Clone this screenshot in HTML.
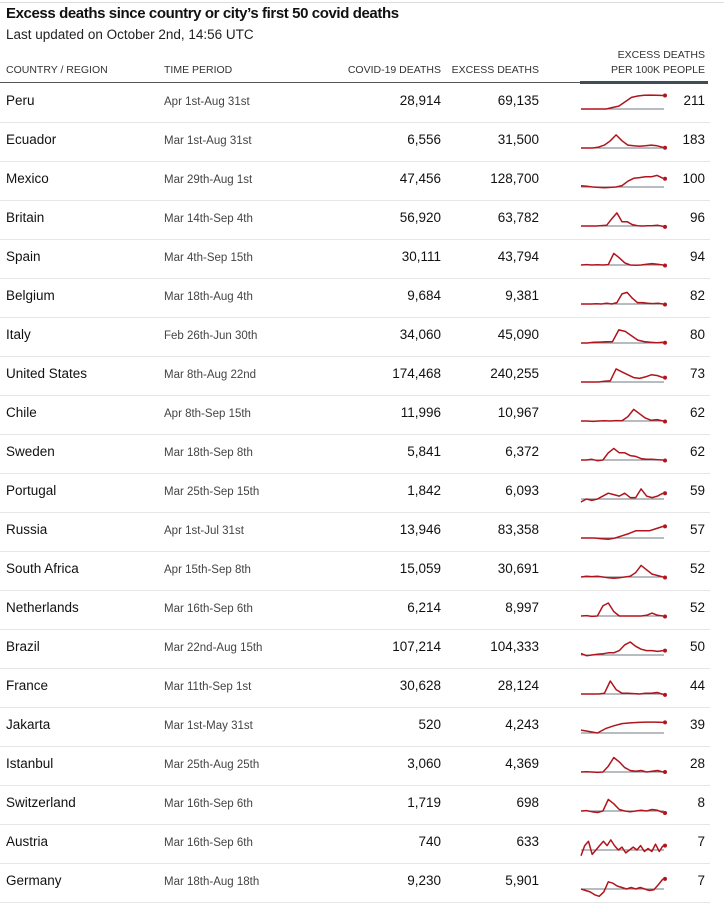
<!DOCTYPE html>
<html><head><meta charset="utf-8"><style>
body{margin:0;width:724px;height:906px;background:#fff;font-family:"Liberation Sans",sans-serif;color:#111;position:relative;overflow:hidden}
.a{position:absolute;white-space:nowrap}
.t{font-size:15px;font-weight:bold;left:6px;top:5px;letter-spacing:-0.4px}
.s{font-size:13.5px;left:6px;top:27px;color:#222}
.h{font-size:10.5px;color:#333}
.c{font-size:13.5px;left:6px}
.p{font-size:11.5px;left:164px;color:#444}
.n{font-size:13.5px;text-align:right}
.sep{position:absolute;left:0;width:710px;height:1px;background:#e6e6e6}
</style></head><body>
<div class="sep" style="top:2px;width:724px;background:#ddd"></div>
<div class="a t">Excess deaths since country or city’s first 50 covid deaths</div>
<div class="a s">Last updated on October 2nd, 14:56 UTC</div>
<div class="a h" style="left:6px;top:64px">COUNTRY / REGION</div>
<div class="a h" style="left:164px;top:64px">TIME PERIOD</div>
<div class="a h" style="right:283px;top:64px">COVID-19 DEATHS</div>
<div class="a h" style="right:185px;top:64px">EXCESS DEATHS</div>
<div class="a h" style="right:19px;top:49px">EXCESS DEATHS</div>
<div class="a h" style="right:19px;top:64px">PER 100K PEOPLE</div>
<div style="position:absolute;left:0;top:82px;width:580px;height:1px;background:#555"></div>
<div style="position:absolute;left:580px;top:81px;width:128px;height:3px;background:#3f4d57"></div>
<div id="rows"></div>
<svg id="sv" width="724" height="906" style="position:absolute;left:0;top:0"></svg>
<script>
var D=[
["Peru","Apr 1st-Aug 31st","28,914","69,135","211",[0,0,0,0,0,1,2,5,8,9,9.5,9.6,9.5,9.3],1],
["Ecuador","Mar 1st-Aug 31st","6,556","31,500","183",[0,0,0,0.6,2,5,9,5,2,1.5,1.2,1.5,2,1.5,0.5],0],
["Mexico","Mar 29th-Aug 1st","47,456","128,700","100",[0.8,0.5,0,-0.3,-0.5,-0.3,0,1,4,6,6.5,7,7,8,6],0],
["Britain","Mar 14th-Sep 4th","56,920","63,782","96",[0,0,0,0,0.3,0.5,5,9,3,3,1,0.2,0,0.2,0.3,0.5,-0.3],0],
["Spain","Mar 4th-Sep 15th","30,111","43,794","94",[0,0.3,0,0.2,0,0.3,8,5,1.5,0,-0.2,0,0.5,1,0.5,0],0],
["Belgium","Mar 18th-Aug 4th","9,684","9,381","82",[0,0,0,0.2,0,0.5,0,1,7,8,4,1,1,0.5,0.3,0.5,0],0],
["Italy","Feb 26th-Jun 30th","34,060","45,090","80",[0,0,0.5,0.6,0.8,1,9,8,5,2,1,0.5,0.2,0.5],0],
["United States","Mar 8th-Aug 22nd","174,468","240,255","73",[0,0,0,0,0.5,0.8,9,7,5,3,2.5,3.5,5,4.5,3],1],
["Chile","Apr 8th-Sep 15th","11,996","10,967","62",[0,0,-0.3,0,0.2,0,0.3,0.2,3,8,5,2,0.5,1,0],0],
["Sweden","Mar 18th-Sep 8th","5,841","6,372","62",[0,0,0.5,-0.5,0,5,8,5,5,3,2.5,1,0.5,0.5,0.2,0],0],
["Portugal","Mar 25th-Sep 15th","1,842","6,093","59",[-2,0,-1,0,2,4,3,2,4,1,1,7,2,1,2,4],1],
["Russia","Apr 1st-Jul 31st","13,946","83,358","57",[0,0,0,-0.5,-0.8,0,1.5,3,5,5,5,6.5,8],1],
["South Africa","Apr 15th-Sep 8th","15,059","30,691","52",[0,0.5,0.3,0.5,0,-0.5,-0.8,-0.5,0,0.5,3,8,5,2,1,0],0],
["Netherlands","Mar 16th-Sep 6th","6,214","8,997","52",[0,0.3,-0.3,0,7,9,3,0,0,0,0,0,0.5,2,0.5,0],0],
["Brazil","Mar 22nd-Aug 15th","107,214","104,333","50",[1,-0.5,0,0.5,0.8,1.5,1.5,3,7,9,6,4,3,3,2.5,3],1],
["France","Mar 11th-Sep 1st","30,628","28,124","44",[0,0,0,0,0.5,9,3,0.5,0.5,0.3,0,0.5,0.5,1,-0.3],0],
["Jakarta","Mar 1st-May 31st","520","4,243","39",[2,1,0,3,5,6.5,7,7.3,7.5,7.5,7.3],1],
["Istanbul","Mar 25th-Aug 25th","3,060","4,369","28",[0,0.2,0,-0.3,0,4,10,7,3,1,0.5,1,0,0.5,1,0],1],
["Switzerland","Mar 16th-Sep 6th","1,719","698","8",[0,0.3,-0.5,-1,0,8,5,1,0,-0.5,0,0.5,0,1,0.5,-1],0],
["Austria","Mar 16th-Sep 6th","740","633","7",[-4,3,6,-3,0,3,6,3,7,3,0,2,-2,0,2,0,3,-1,1,-1,4,-1,3],2],
["Germany","Mar 18th-Aug 18th","9,230","5,901","7",[0,-1,-2,-4,-5,-2,5,4,2,1,0,1,0,1,0,-1,-0.5,3,7],3]];
var h="",s="";
D.forEach(function(r,i){var c=102+39*i;
h+='<div class="a c" style="top:'+(c-9)+'px">'+r[0]+'</div><div class="a p" style="top:'+(c-6)+'px">'+r[1]+'</div><div class="a n" style="right:283px;top:'+(c-9)+'px">'+r[2]+'</div><div class="a n" style="right:185px;top:'+(c-9)+'px">'+r[3]+'</div><div class="a n" style="right:19px;top:'+(c-9)+'px">'+r[4]+'</div><div class="sep" style="top:'+(c+20)+'px"></div>';
var b=c+7,v=r[5],n=v.length,pts=[];
v.forEach(function(y,j){pts.push((581+j*82/(n-1)).toFixed(1)+','+(b-y*1.45).toFixed(1));});
s+='<line x1="581" x2="664" y1="'+b+'" y2="'+b+'" stroke="#6d7a80" stroke-width="1"/>';
s+='<polyline points="'+pts.join(' ')+'" fill="none" stroke="#b0141c" stroke-width="1.5" stroke-linejoin="round"/>';
s+='<circle cx="665" cy="'+(b-v[n-1]*1.45+ (r[6]==0?0.5:0)).toFixed(1)+'" r="2" fill="#b0141c"/>';
});
document.getElementById("rows").innerHTML=h;document.getElementById("sv").innerHTML=s;
</script>
</body></html>
